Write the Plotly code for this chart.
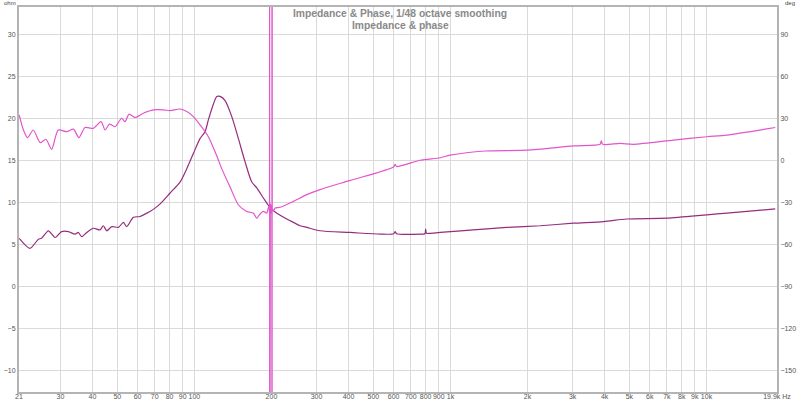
import math
import plotly.graph_objects as go

# ---- data ----
imp_freq = [20.7, 22.8, 24.6, 25.3, 26.9, 28.6, 30.3, 32.2, 34.2, 35.2, 36.3, 38.0, 40.3, 42.8,
            44.1, 45.5, 47.6, 50.5, 52.8, 54.4, 57.8, 61.4, 65.2, 67.1, 70.2, 73.5, 80.4, 87.9,
            93.4, 99.1, 105.3, 110.1, 113.4, 118.7, 122.3, 126.0, 131.8, 140.0, 148.5, 157.8,
            167.6, 175.3, 186.0, 191.8, 198.0, 209.9, 236.5, 258.8, 274.9, 309.7, 406, 533,
            600, 608, 616, 761, 795, 800, 806, 830, 911, 1229, 1661, 2240, 3023, 3960, 4888,
            7003, 10036, 12016, 18550]
imp_ohm = [5.7, 4.5, 5.6, 5.7, 6.6, 5.8, 6.5, 6.5, 6.2, 6.4, 5.9, 6.4, 6.9, 6.7,
           7.2, 6.6, 7.1, 7.0, 7.6, 7.1, 8.2, 8.3, 8.7, 8.9, 9.3, 9.8, 11.1, 12.4,
           14.0, 15.8, 17.6, 18.4, 19.8, 21.7, 22.6, 22.6, 22.1, 20.2, 17.6, 14.8,
           12.4, 11.7, 10.5, 9.9, 9.3, 8.7, 7.8, 7.2, 7.0, 6.6, 6.4, 6.2,
           6.25, 6.5, 6.25, 6.2, 6.25, 6.8, 6.3, 6.3, 6.4, 6.7, 7.0, 7.2, 7.5, 7.7, 8.0,
           8.1, 8.5, 8.7, 9.2]

phase_freq = [20.7, 21.5, 22.3, 23.5, 25.0, 26.3, 27.7, 29.4, 31.7, 33.7, 35.4, 37.4, 40.3,
              43.2, 44.8, 46.6, 49.0, 52.0, 53.6, 55.6, 58.7, 63.2, 69.2, 75.7, 80.4, 87.9,
              93.4, 99.1, 105.3, 113.4, 120.5, 127.9, 137.9, 148.5, 160.2, 170.1, 175.3,
              179.4, 186.0, 191.8, 195.0, 196.6, 196.8, 196.8, 196.9, 198.0, 199.0, 200.0,
              201.0, 201.2, 201.2, 201.4, 204.0, 206.7, 216.1, 243.6, 274.9, 309.7, 405.8,
              600, 608, 616, 761, 911, 997, 1366, 1988, 3023, 3844, 3880, 3935, 4603, 5186,
              7431, 10036, 12016, 18550]
phase_deg = [32.4, 21.6, 16.2, 21.6, 12.6, 15.0, 7.8, 21.6, 20.4, 22.2, 16.2, 23.4, 22.8,
             27.6, 21.6, 25.8, 24.0, 30.0, 27.6, 33.0, 30.6, 33.6, 36.0, 36.0, 35.4, 36.6,
             34.8, 31.2, 25.2, 16.8, 6.0, -6.0, -19.2, -31.8, -36.6, -37.8, -41.4,
             -39.0, -36.6, -37.8, -33.6, -37.0, 400.0, -400.0, -36.0, -31.0, -38.0, -32.0,
             -37.0, -400.0, 400.0, -35.0, -36.0, -34.2, -33.6, -29.4, -24.6, -21.0, -14.4,
             -4.8, -3.0, -4.5, 0.0, 1.8, 3.6, 6.6, 7.2, 10.2, 11.4, 13.8, 11.4, 12.0, 11.4,
             14.4, 16.8, 18.0, 23.4]

x_tick_vals = [20.66, 30, 40, 50, 60, 70, 80, 90, 100, 200, 300, 400, 500, 600, 700, 800, 900,
               1000, 2000, 3000, 4000, 5000, 6000, 7000, 8000, 9000, 10000, 18850]
x_tick_text = ["21", "30", "40", "50", "60", "70", "80", "90", "100", "200", "300", "400",
               "500", "600", "700", "800", "900", "1k", "2k", "3k", "4k", "5k", "6k", "7k",
               "8k", "9k", "10k", "19.9k Hz"]
ohm_ticks = [-10, -5, 0, 5, 10, 15, 20, 25, 30]
deg_ticks = [-150, -120, -90, -60, -30, 0, 30, 60, 90]
ohm_range = [-12.6, 33.25]
deg_range = [-165.6, 109.5]

IMP_COLOR = "#962c7e"
PH_COLOR = "#e255cc"
FONT = "Liberation Sans"
TICKFONT = dict(family=FONT, size=7, color="#555555")

# split the phase around the 200 Hz wrap so the smooth part can use a spline
s0 = phase_freq.index(195.0)
s1 = phase_freq.index(201.4)
ph_smooth_f = phase_freq[:s0 + 1] + phase_freq[s1:]
ph_smooth_d = phase_deg[:s0 + 1] + phase_deg[s1:]
ph_wrap_f = phase_freq[s0:s1 + 1]
ph_wrap_d = phase_deg[s0:s1 + 1]

fig = go.Figure()
fig.add_trace(go.Scatter(x=ph_smooth_f, y=ph_smooth_d, yaxis="y2", mode="lines",
                         line=dict(color=PH_COLOR, width=1.2, shape="spline", smoothing=0.7),
                         name="Phase"))
fig.add_trace(go.Scatter(x=ph_wrap_f, y=ph_wrap_d, yaxis="y2", mode="lines",
                         line=dict(color=PH_COLOR, width=1.2), name="Phase wrap"))
fig.add_trace(go.Scatter(x=imp_freq, y=imp_ohm, mode="lines",
                         line=dict(color=IMP_COLOR, width=1.2, shape="spline", smoothing=0.7),
                         name="Impedance"))

fig.update_layout(
    width=800, height=402,
    margin=dict(l=19, r=23, t=7, b=10, autoexpand=False),
    paper_bgcolor="white", plot_bgcolor="white",
    showlegend=False,
    xaxis=dict(type="log", range=[math.log10(x_tick_vals[0]), math.log10(x_tick_vals[-1])],
               tickvals=x_tick_vals, ticktext=x_tick_text, tickfont=TICKFONT,
               tickangle=0, ticklabelstandoff=-3,
               showgrid=True, gridcolor="#dadada", gridwidth=1, zeroline=False,
               showline=True, linecolor="#b4b4b4", linewidth=2, mirror=True,
               ticks="", automargin=False),
    yaxis=dict(range=ohm_range, tickvals=ohm_ticks, tickfont=TICKFONT,
               showgrid=True, gridcolor="#dadada", gridwidth=1, zeroline=False,
               showline=True, linecolor="#b4b4b4", linewidth=2, mirror=True,
               ticks="", automargin=False),
    yaxis2=dict(range=deg_range, tickvals=deg_ticks, tickfont=TICKFONT, overlaying="y",
                side="right", showgrid=False, zeroline=False, showline=True,
                linecolor="#b4b4b4", linewidth=2, ticks="", automargin=False),
    annotations=[
        dict(text="<b>Impedance &amp; Phase, 1/48 octave smoothing</b>", xref="paper", yref="paper",
             x=(400 - 19) / 758, y=(392 - 13.5) / 385, showarrow=False, borderpad=0,
             font=dict(family=FONT, size=10.3, color="#8a8a8a"), xanchor="center", yanchor="middle"),
        dict(text="<b>Impedance &amp; phase</b>", xref="paper", yref="paper",
             x=(400 - 19) / 758, y=(392 - 25) / 385, showarrow=False, borderpad=0,
             font=dict(family=FONT, size=10.3, color="#8a8a8a"), xanchor="center", yanchor="middle"),
        dict(text="ohm", xref="paper", yref="paper", x=(10 - 19) / 758, y=(392 - 3) / 385,
             showarrow=False, font=dict(family=FONT, size=6, color="#444444"),
             xanchor="center", yanchor="middle"),
        dict(text="deg", xref="paper", yref="paper", x=(790 - 19) / 758, y=(392 - 3) / 385,
             showarrow=False, font=dict(family=FONT, size=6, color="#444444"),
             xanchor="center", yanchor="middle"),
    ],
)

fig.write_html("out.html", config={"displayModeBar": False},
               post_script="document.body.style.margin='0';document.body.style.overflow='hidden';")
